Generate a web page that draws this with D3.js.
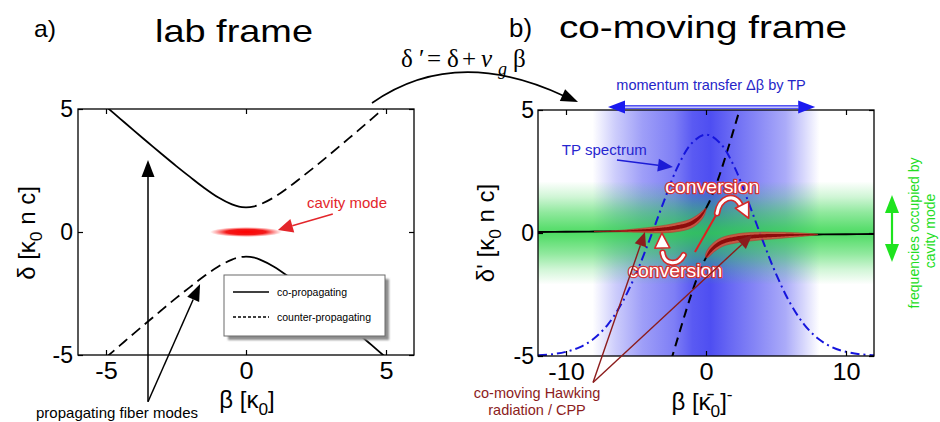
<!DOCTYPE html>
<html><head><meta charset="utf-8">
<script src="https://cdn.jsdelivr.net/npm/d3@7"></script>
<style>
body{margin:0;background:#fff}
svg{display:block;font-family:"Liberation Sans",Arial,Helvetica,sans-serif}
</style></head><body>
<svg id="fig" width="940" height="422"></svg>
<script>
// ---------- data: lab frame dispersion (two branches of the avoided crossing) ----------
const labTicks = [-5, 0, 5];
const labBeta  = [-5,-4.5,-4,-3.5,-3,-2.5,-2,-1.5,-1,-0.5,-0.25,0,0.25,0.5,1,1.5,2,2.5,3,3.5,4,4.5,5];
const labUpper = [5.10,4.61,4.12,3.64,3.16,2.69,2.24,1.80,1.41,1.12,1.03,1.00,1.03,1.12,1.41,1.80,2.24,2.69,3.16,3.64,4.12,4.61,5.10];
const labLower = [-5.10,-4.61,-4.12,-3.64,-3.16,-2.69,-2.24,-1.80,-1.41,-1.12,-1.03,-1.00,-1.03,-1.12,-1.41,-1.80,-2.24,-2.69,-3.16,-3.64,-4.12,-4.61,-5.10];
const legendLabels = ["co-propagating", "counter-propagating"];

// ---------- data: co-moving frame ----------
const movTicksX = [-10, 0, 10];
const movTicksY = [-5, 0, 5];
const movUpperBeta  = [-12,-10,-8,-6,-5,-4,-3,-2.5,-2,-1.5,-1,-0.5,-0.25,0,0.25,0.5,1,1.5,2,2.5];
const movUpperDelta = [0.04,0.05,0.06,0.08,0.10,0.12,0.16,0.19,0.24,0.30,0.41,0.62,0.78,1.00,1.28,1.62,2.41,3.30,4.24,5.19];
const movLowerBeta  = [-2.5,-2,-1.5,-1,-0.5,-0.25,0,0.25,0.5,1,1.5,2,2.5,3,4,5,6,8,10,12];
const movLowerDelta = [-5.19,-4.24,-3.30,-2.41,-1.62,-1.28,-1.00,-0.78,-0.62,-0.41,-0.30,-0.24,-0.19,-0.16,-0.12,-0.10,-0.08,-0.06,-0.05,-0.04];
// trapping-potential spectrum
const tpBeta  = [-12,-11,-10,-9,-8,-7,-6,-5,-4,-3,-2,-1,0,1,2,3,4,5,6,7,8,9,10,11,12];
const tpDelta = [-4.97,-4.93,-4.83,-4.64,-4.29,-3.71,-2.84,-1.66,-0.23,1.30,2.72,3.66,4.00,3.66,2.72,1.30,-0.23,-1.66,-2.84,-3.71,-4.29,-4.64,-4.83,-4.93,-4.97];
// highlighted Hawking/CPP stretches of each branch
const hawkUpperRange = [-8, 0];
const hawkLowerRange = [0, 8];

const svg = d3.select("#fig");
const defs = svg.append("defs");
const zip = (a, b) => a.map((v, i) => [v, b[i]]);

// ---------- helpers ----------
function txt(parent, o) {
  const g = parent.append("g").attr("transform",
    `translate(${o.x},${o.y})` + (o.rot ? ` rotate(${o.rot})` : ""));
  const t = g.append("text").attr("font-size", o.s).attr("text-anchor", o.a || "start")
    .attr("fill", o.fill || "#000").text(o.t);
  if (o.w) t.attr("textLength", o.w).attr("lengthAdjust", "spacingAndGlyphs");
  if (o.stroke) t.attr("stroke", o.stroke).attr("stroke-width", o.sw).attr("paint-order", "stroke").attr("stroke-linejoin", "round");
  return t;
}
// label with sub/superscripts
function rich(parent, o) {
  const g = parent.append("g").attr("transform",
    `translate(${o.x},${o.y})` + (o.rot ? ` rotate(${o.rot})` : ""));
  const t = g.append("text").attr("font-size", o.s).attr("text-anchor", o.a || "start")
    .attr("fill", o.fill || "#000");
  if (o.family) t.attr("font-family", o.family);
  let shift = 0;
  o.t.forEach(p => {
    const sz = (p.sub || p.sup) ? o.s * 0.72 : o.s;
    const target = p.sub ? o.s * 0.3 : p.sup ? -o.s * 0.4 : 0;
    const sp = t.append("tspan").text(p.t).attr("font-size", sz).attr("dy", target - shift);
    if (p.x !== undefined) sp.attr("x", p.x);
    if (p.it) sp.attr("font-style", "italic");
    shift = target;
  });
  return t;
}
function head(g, tip, from, len, hw, fill, stroke, sw) {
  const a = Math.atan2(tip[1] - from[1], tip[0] - from[0]);
  const bx = tip[0] - len * Math.cos(a), by = tip[1] - len * Math.sin(a);
  const nx = -Math.sin(a) * hw, ny = Math.cos(a) * hw;
  const p = g.append("path")
    .attr("d", `M${tip[0]},${tip[1]}L${bx + nx},${by + ny}L${bx - nx},${by - ny}Z`)
    .attr("fill", fill);
  if (stroke) p.attr("stroke", stroke).attr("stroke-width", sw).attr("stroke-linejoin", "round");
  return [bx, by];
}
function arrow(g, from, tip, color, w, len, hw) {
  const base = head(g, tip, from, len, hw, color);
  g.append("line").attr("x1", from[0]).attr("y1", from[1]).attr("x2", base[0]).attr("y2", base[1])
    .attr("stroke", color).attr("stroke-width", w);
}
function axes(g, x, y, xt, yt, padX) {
  const [x0, x1] = x.range(), [y0, y1] = y.range();
  const fmt = d => String(d);
  const ax = g.append("g").attr("transform", `translate(0,${y0})`)
    .call(d3.axisBottom(x).tickValues(xt).tickSizeInner(-5).tickSizeOuter(0).tickPadding(8).tickFormat(fmt));
  g.append("g").attr("transform", `translate(0,${y1})`)
    .call(d3.axisTop(x).tickValues(xt).tickSizeInner(-5).tickSizeOuter(0).tickFormat(""));
  const ay = g.append("g").attr("transform", `translate(${x0},0)`)
    .call(d3.axisLeft(y).tickValues(yt).tickSizeInner(-5).tickSizeOuter(0).tickPadding(padX).tickFormat(fmt));
  g.append("g").attr("transform", `translate(${x1},0)`)
    .call(d3.axisRight(y).tickValues(yt).tickSizeInner(-5).tickSizeOuter(0).tickFormat(""));
  g.selectAll(".domain").remove();
  g.selectAll(".tick line").attr("stroke", "#000").attr("stroke-width", 1.2);
  [ax, ay].forEach(a => a.attr("font-family", null).attr("font-size", 23).selectAll("text").attr("fill", "#000"));
  ax.selectAll("text").attr("transform", "scale(1.1,1)");
  g.append("rect").attr("x", x0).attr("y", y1).attr("width", x1 - x0).attr("height", y0 - y1)
    .attr("fill", "none").attr("stroke", "#000").attr("stroke-width", 1.3);
}
function clip(id, x, y) {
  const [x0, x1] = x.range(), [y0, y1] = y.range();
  defs.append("clipPath").attr("id", id).append("rect")
    .attr("x", x0).attr("y", y1).attr("width", x1 - x0).attr("height", y0 - y1);
  return `url(#${id})`;
}
// tapered ribbon drawn along a curve
function ribbon(g, d, maxW, p) {
  const tmp = g.append("path").attr("d", d).attr("fill", "none");
  const node = tmp.node(), L = node.getTotalLength(), N = 120;
  const s = d3.range(N + 1).map(i => node.getPointAtLength(L * i / N));
  tmp.remove();
  const poly = k => {
    const top = [], bot = [];
    s.forEach((q, i) => {
      const a = s[Math.max(0, i - 1)], b = s[Math.min(N, i + 1)];
      const dx = b.x - a.x, dy = b.y - a.y, n = Math.hypot(dx, dy) || 1;
      const nx = -dy / n, ny = dx / n, t = i / N;
      const w = maxW * k * Math.pow(Math.sin(Math.PI * Math.pow(t, p)), 0.7);
      top.push([q.x + nx * w, q.y + ny * w]); bot.push([q.x - nx * w, q.y - ny * w]);
    });
    return "M" + top.concat(bot.reverse()).map(v => v.join(",")).join("L") + "Z";
  };
  g.append("path").attr("d", poly(1)).attr("fill", "#e0473c").attr("opacity", 0.85)
    .attr("stroke", "#c02a24").attr("stroke-width", 0.6);
  g.append("path").attr("d", poly(0.45)).attr("fill", "#8c0c0c");
}

// ---------- titles ----------
txt(svg, {x: 34, y: 37, s: 24, t: "a)", w: 22});
txt(svg, {x: 155, y: 42, s: 32, t: "lab frame", w: 158});
txt(svg, {x: 509, y: 37, s: 25, t: "b)", w: 23});
txt(svg, {x: 559, y: 38, s: 31, t: "co-moving frame", w: 288});

// ================= panel a: lab frame =================
const xa = d3.scaleLinear([-6, 6], [78, 414]);
const ya = d3.scaleLinear([-5, 5], [355, 109]);
const ga = svg.append("g");
const lineA = d3.line().x(d => xa(d[0])).y(d => ya(d[1])).curve(d3.curveCatmullRom.alpha(0.5));
const curvesA = ga.append("g").attr("clip-path", clip("clipA", xa, ya));
const up = zip(labBeta, labUpper), lo = zip(labBeta, labLower);
const segs = [
  [up.filter(d => d[0] <= 0), null], [up.filter(d => d[0] >= 0), "11,6"],
  [lo.filter(d => d[0] <= 0), "11,6"], [lo.filter(d => d[0] >= 0), null]
];
segs.forEach(([pts, dash]) => curvesA.append("path").attr("d", lineA(pts)).attr("fill", "none")
  .attr("stroke", "#000").attr("stroke-width", 1.8).attr("stroke-dasharray", dash));

// cavity mode
const cg = defs.append("radialGradient").attr("id", "cav");
cg.append("stop").attr("offset", 0).attr("stop-color", "#ff0000").attr("stop-opacity", 1);
cg.append("stop").attr("offset", 0.55).attr("stop-color", "#f20d0d").attr("stop-opacity", 0.95);
cg.append("stop").attr("offset", 1).attr("stop-color", "#ff3030").attr("stop-opacity", 0);
ga.append("ellipse").attr("cx", xa(0)).attr("cy", ya(0)).attr("rx", 36).attr("ry", 5).attr("fill", "url(#cav)");
txt(ga, {x: xa(2.18), y: ya(0.98), s: 15, t: "cavity mode", fill: "#e3262b", w: 80});
arrow(ga, [xa(3.1), ya(0.73)], [xa(1.14), ya(0.08)], "#e3262b", 1.5, 15, 7);

axes(ga, xa, ya, labTicks, labTicks, 5);

// legend
const lg = ga.append("g");
defs.append("filter").attr("id", "sh").append("feGaussianBlur").attr("stdDeviation", 1.2);
lg.append("rect").attr("x", 228).attr("y", 279).attr("width", 161).attr("height", 61)
  .attr("fill", "#8d8d8d").attr("filter", "url(#sh)");
lg.append("rect").attr("x", 224).attr("y", 275).attr("width", 161).attr("height", 61)
  .attr("fill", "#fff").attr("stroke", "#6b6b6b").attr("stroke-width", 1);
legendLabels.forEach((l, i) => {
  const yy = 292 + i * 25;
  lg.append("line").attr("x1", 233).attr("x2", 269).attr("y1", yy).attr("y2", yy)
    .attr("stroke", "#000").attr("stroke-width", 1.3).attr("stroke-dasharray", i ? "3,2" : null);
  txt(lg, {x: 277, y: yy + 3.5, s: 10.5, t: l});
});

// axis labels
rich(ga, {x: 35, y: 233, rot: -90, a: "middle", s: 24, t: [{t: "δ  [κ"}, {t: "0", sub: true}, {t: " n c]"}]});
rich(ga, {x: 247, y: 408, a: "middle", s: 24, t: [{t: "β [κ"}, {t: "0", sub: true}, {t: "]"}]});

// propagating fiber modes annotation
txt(ga, {x: 36, y: 418, s: 15, t: "propagating fiber modes", w: 162});
arrow(ga, [xa(-3.5), ya(-6.9)], [xa(-3.5), ya(2.93)], "#000", 1.5, 17, 6.5);
arrow(ga, [xa(-3.5), ya(-6.9)], [xa(-1.64), ya(-2.11)], "#000", 1.5, 17, 6.5);

// transformation arrow between panels
svg.append("path").attr("d", "M372,103 Q455,45 564,96").attr("fill", "none").attr("stroke", "#000").attr("stroke-width", 1.6);
head(svg, [578, 102], [560, 94], 17, 6.5, "#000");
rich(svg, {x: 0, y: 67, s: 25, family: "'Liberation Serif','Times New Roman',serif", t: [
  {t: "δ", x: 401}, {t: "′", x: 419}, {t: "=", x: 427}, {t: "δ", x: 447}, {t: "+", x: 462},
  {t: "ν", x: 481, it: true}, {t: "g", x: 498, sub: true, it: true}, {t: "β", x: 513}
]});

// ================= panel b: co-moving frame =================
const xb = d3.scaleLinear([-12, 12], [538, 874]);
const yb = d3.scaleLinear([-5, 5], [356, 110]);
const gb = svg.append("g");
const cb = gb.append("g").attr("clip-path", clip("clipB", xb, yb));

// momentum band of the trapping potential
const bg = defs.append("linearGradient").attr("id", "blueBand").attr("gradientUnits", "userSpaceOnUse")
  .attr("x1", xb(-8.1)).attr("x2", xb(8.1)).attr("y1", 0).attr("y2", 0);
[[0, 0], [0.1, 0.25], [0.22, 0.48], [0.36, 0.64], [0.44, 0.82], [0.52, 0.88], [0.6, 0.76], [0.72, 0.6], [0.85, 0.42], [0.93, 0.2], [1, 0]]
  .forEach(([o, a]) => bg.append("stop").attr("offset", o).attr("stop-color", "#3636f0").attr("stop-opacity", a));
cb.append("rect").attr("x", xb(-12)).attr("y", yb(5)).attr("width", xb(12) - xb(-12)).attr("height", yb(-5) - yb(5))
  .attr("fill", "url(#blueBand)");
// frequency band of the cavity mode
const gg = defs.append("linearGradient").attr("id", "greenBand").attr("gradientUnits", "userSpaceOnUse")
  .attr("x1", 0).attr("x2", 0).attr("y1", yb(2.1)).attr("y2", yb(-2.1));
[[0, 0], [0.15, 0.22], [0.3, 0.52], [0.45, 0.76], [0.5, 0.82], [0.55, 0.76], [0.7, 0.52], [0.85, 0.22], [1, 0]]
  .forEach(([o, a]) => gg.append("stop").attr("offset", o).attr("stop-color", "#2ad444").attr("stop-opacity", a));
cb.append("rect").attr("x", xb(-12)).attr("y", yb(2.1)).attr("width", xb(12) - xb(-12)).attr("height", yb(-2.1) - yb(2.1))
  .attr("fill", "url(#greenBand)");

const lineB = d3.line().x(d => xb(d[0])).y(d => yb(d[1])).curve(d3.curveCatmullRom.alpha(0.5));
const mu = zip(movUpperBeta, movUpperDelta), ml = zip(movLowerBeta, movLowerDelta);
// counter-propagating parts (dashed)
[mu.filter(d => d[0] >= 0), ml.filter(d => d[0] <= 0)].forEach(pts =>
  cb.append("path").attr("d", lineB(pts)).attr("fill", "none").attr("stroke", "#000")
    .attr("stroke-width", 2).attr("stroke-dasharray", "9,6"));
// TP spectrum
cb.append("path").attr("d", lineB(zip(tpBeta, tpDelta))).attr("fill", "none")
  .attr("stroke", "#1515dc").attr("stroke-width", 2).attr("stroke-dasharray", "9,4,2,4");
// co-propagating parts (solid)
[mu.filter(d => d[0] <= 0), ml.filter(d => d[0] >= 0)].forEach(pts =>
  cb.append("path").attr("d", lineB(pts)).attr("fill", "none").attr("stroke", "#000").attr("stroke-width", 1.8));
// Hawking radiation / CPP stretches
ribbon(cb, lineB(mu.filter(d => d[0] >= hawkUpperRange[0] && d[0] <= hawkUpperRange[1])), 4.4, 2.4);
ribbon(cb, lineB(ml.filter(d => d[0] >= hawkLowerRange[0] && d[0] <= hawkLowerRange[1])), 4.4, 0.58);

axes(gb, xb, yb, movTicksX, movTicksY, 4);

// conversion arrows
const P = (b, d) => [xb(b), yb(d)];
gb.append("line").attr("x1", P(-0.79, -0.77)[0]).attr("y1", P(-0.79, -0.77)[1])
  .attr("x2", P(0.79, 0.8)[0]).attr("y2", P(0.79, 0.8)[1]).attr("stroke", "#e02020").attr("stroke-width", 2);
function fatArrow(d, tip, from) {
  gb.append("path").attr("d", d).attr("fill", "none").attr("stroke", "#d42a2a").attr("stroke-width", 6.5).attr("stroke-linecap", "round");
  gb.append("path").attr("d", d).attr("fill", "none").attr("stroke", "#fff").attr("stroke-width", 3.2).attr("stroke-linecap", "round");
  head(gb, tip, from, 15, 7.5, "#fff", "#d42a2a", 1.6);
}
{
  const a0 = P(0.79, 0.8), c1 = P(0.95, 1.4), c2 = P(2.0, 1.7), a1 = P(2.5, 1.1);
  fatArrow(`M${a0}C${c1} ${c2} ${a1}`, P(3.05, 0.6), P(2.3, 1.45));
  const b0 = P(-1.6, -0.9), d1 = P(-2.0, -1.35), d2 = P(-3.0, -1.3), b1 = P(-3.1, -0.8);
  fatArrow(`M${b0}C${d1} ${d2} ${b1}`, P(-3.15, 0.0), P(-3.1, -1.0));
}

// labels inside panel b
txt(gb, {x: xb(0.45), y: yb(1.62), s: 19, a: "middle", t: "conversion", fill: "#fff", stroke: "#d83535", sw: 2.6, w: 94});
txt(gb, {x: xb(-2.2), y: yb(-1.8), s: 19, a: "middle", t: "conversion", fill: "#fff", stroke: "#d83535", sw: 2.6, w: 94});
txt(gb, {x: xb(-10.3), y: yb(3.17), s: 15, t: "TP spectrum", fill: "#2626cf", w: 85});
arrow(gb, P(-6.36, 2.97), P(-2.36, 2.68), "#1c1cd6", 1.6, 15, 6.5);

// momentum transfer arrow above the panel
{
  const yy = yb(5.12), l = xb(-7.0), r = xb(7.8);
  const bl = head(gb, [l, yy], [r, yy], 17, 6.5, "#1a1aef");
  const br = head(gb, [r, yy], [l, yy], 17, 6.5, "#1a1aef");
  gb.append("line").attr("x1", bl[0]).attr("x2", br[0]).attr("y1", yy).attr("y2", yy).attr("stroke", "#1a1aef").attr("stroke-width", 3.6);
  gb.append("line").attr("x1", bl[0]).attr("x2", br[0]).attr("y1", yy).attr("y2", yy).attr("stroke", "#fff").attr("stroke-width", 1.2);
  rich(gb, {x: xb(0.36), y: 90, a: "middle", s: 14.5, fill: "#2525c8", t: [{t: "momentum transfer Δβ by TP"}]});
}

// cavity frequency arrow and label on the right
{
  const gx = 892, top = 195, bot = 262;
  const bt = head(gb, [gx, top], [gx, bot], 18, 7, "#1ee31e");
  const bb = head(gb, [gx, bot], [gx, top], 18, 7, "#1ee31e");
  gb.append("line").attr("x1", gx).attr("x2", gx).attr("y1", bt[1]).attr("y2", bb[1]).attr("stroke", "#1ee31e").attr("stroke-width", 2.2);
  txt(gb, {x: 919, y: 233, rot: -90, a: "middle", s: 14, t: "frequencies occupied by", fill: "#22dd22"});
  txt(gb, {x: 935, y: 231, rot: -90, a: "middle", s: 14, t: "cavity mode", fill: "#22dd22"});
}

// Hawking radiation annotation
txt(gb, {x: 537, y: 398, s: 14.5, a: "middle", t: "co-moving Hawking", fill: "#8c1c1c"});
txt(gb, {x: 537, y: 415, s: 14.5, a: "middle", t: "radiation / CPP", fill: "#8c1c1c"});
arrow(gb, P(-8.07, -6.08), P(-4.36, 0.04), "#8c1c1c", 1.4, 14, 6);
arrow(gb, P(-8.07, -6.08), P(3.29, -0.08), "#8c1c1c", 1.4, 14, 6);

// axis labels
rich(gb, {x: 494, y: 233, rot: -90, a: "middle", s: 24, t: [{t: "δ' [κ"}, {t: "0", sub: true}, {t: " n c]"}]});
rich(gb, {x: 702, y: 410, a: "middle", s: 24, t: [{t: "β [κ̄"}, {t: "0", sub: true}, {t: "]"}, {t: "-", sup: true}]});
</script>
</body></html>
